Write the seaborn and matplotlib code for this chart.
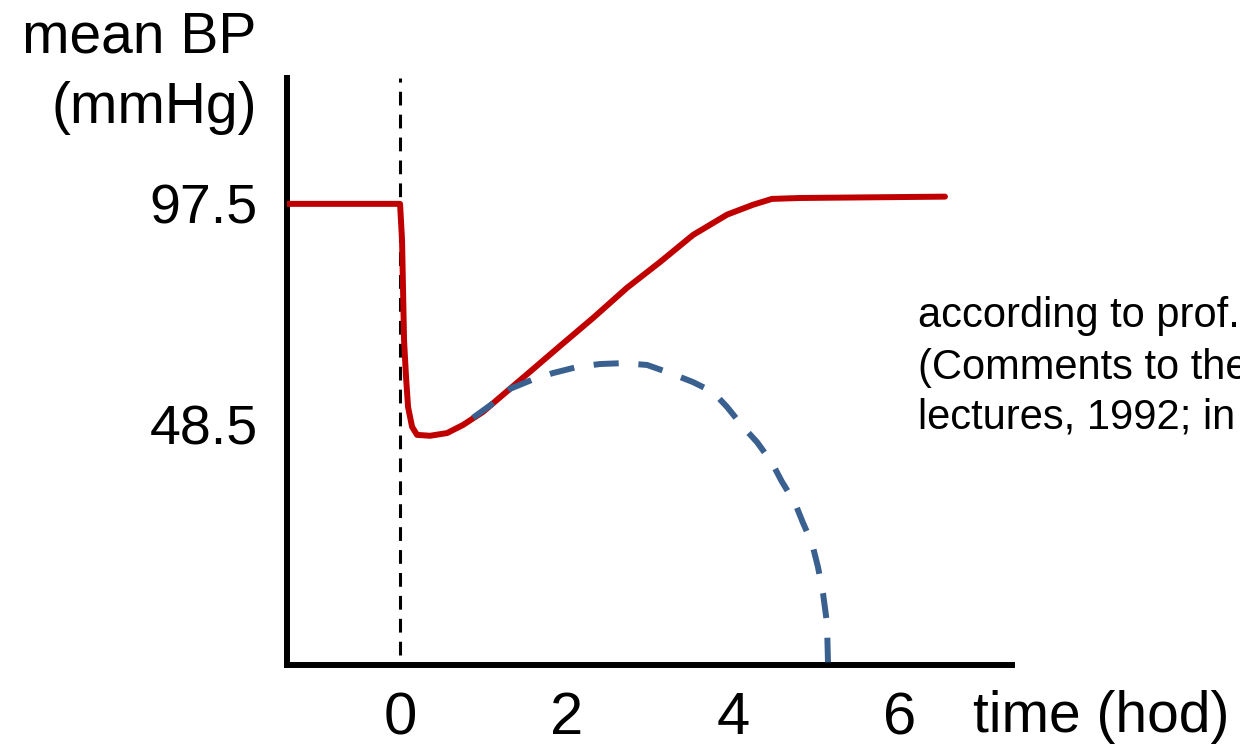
import matplotlib

matplotlib.use("Agg")
import matplotlib.pyplot as plt
import pandas as pd
import seaborn as sns

# red curve: mean BP after the drop (hours, mmHg)
red_t = [-1.356, 0.0, 0.024, 0.036, 0.048, 0.072, 0.096, 0.144, 0.204, 0.36,
         0.564, 0.756, 0.996, 1.236, 1.56, 1.92, 2.316, 2.724, 3.12, 3.516,
         3.924, 4.236, 4.464, 4.80, 6.54]
red_bp = [97.5, 97.5, 89.5, 78.4, 67.3, 59.1, 52.5, 48.1, 46.3, 46.1,
          46.7, 48.5, 51.4, 55.2, 60.3, 66.0, 72.2, 78.9, 84.6, 90.6,
          95.1, 97.3, 98.6, 98.8, 99.1]

# blue dashed curve: decompensated course
blue_t = [0.876, 1.116, 1.32, 1.584, 1.836, 2.136, 2.40, 2.676, 2.964, 3.24,
          3.516, 3.756, 3.924, 4.116, 4.284, 4.464, 4.584, 4.74, 4.836, 4.944,
          5.016, 5.076, 5.124, 5.136]
blue_bp = [50.1, 53.3, 56.5, 58.5, 60.0, 61.4, 62.0, 62.2, 61.8, 60.0,
           58.0, 55.8, 52.5, 48.1, 44.7, 40.1, 35.9, 31.2, 26.8, 22.3,
           17.0, 11.2, 4.6, -4.1]

x_ticks = [0, 2, 4, 6]
y_ticks = [48.5, 97.5]
y_tick_labels = ["48.5", "97.5"]
note_lines = ["according to prof.", "(Comments to the", "lectures, 1992; in"]

sns.set_style("white")
plt.rcParams["font.family"] = ["Liberation Sans", "DejaVu Sans"]
plt.rcParams["text.color"] = "black"
plt.rcParams["xtick.color"] = "black"
plt.rcParams["ytick.color"] = "black"

fig = plt.figure(figsize=(12.4, 7.44), dpi=100)
ax = fig.add_axes([0.2315, 0.1062, 0.5846, 0.789])

red_df = pd.DataFrame({"t": red_t, "bp": red_bp})
blue_df = pd.DataFrame({"t": blue_t, "bp": blue_bp})

ax.axvline(0, ymin=0.017, ymax=1.0, color="black", lw=2.2, dashes=(4.5, 3), zorder=1)
sns.lineplot(data=red_df, x="t", y="bp", ax=ax, color="#c00000", lw=4.3,
             sort=False, estimator=None, zorder=3)
sns.lineplot(data=blue_df, x="t", y="bp", ax=ax, color="#3a6090", lw=4.3,
             sort=False, estimator=None, zorder=4)
ax.lines[-1].set_dashes((4.2, 3.3))
ax.lines[-1].set_solid_capstyle("butt")
ax.lines[1].set_solid_joinstyle("round")

ax.set_xlim(-1.356, 7.344)
ax.set_ylim(-4.7, 125.4)
ax.set_xticks(x_ticks)
ax.set_xticklabels([str(t) for t in x_ticks], fontsize=43)
ax.set_yticks(y_ticks)
ax.set_yticklabels(y_tick_labels, fontsize=40)
ax.tick_params(axis="x", length=0, pad=19)
ax.tick_params(axis="y", length=0, pad=21)
ax.set_xlabel("")
ax.set_ylabel("")

for side in ["top", "right"]:
    ax.spines[side].set_visible(False)
for side in ["left", "bottom"]:
    ax.spines[side].set_linewidth(4.3)
    ax.spines[side].set_color("black")

fig.text(0.207, 0.9288, "mean BP", fontsize=41, ha="right", va="baseline")
fig.text(0.207, 0.8347, "(mmHg)", fontsize=41, ha="right", va="baseline")
fig.text(0.7847, 0.0161, "time (hod)", fontsize=41, ha="left", va="baseline")

for yy, line in zip([0.5605, 0.4906, 0.4247], note_lines):
    fig.text(0.7403, yy, line, fontsize=30, ha="left", va="baseline")

fig.savefig("out.png", dpi=100)
